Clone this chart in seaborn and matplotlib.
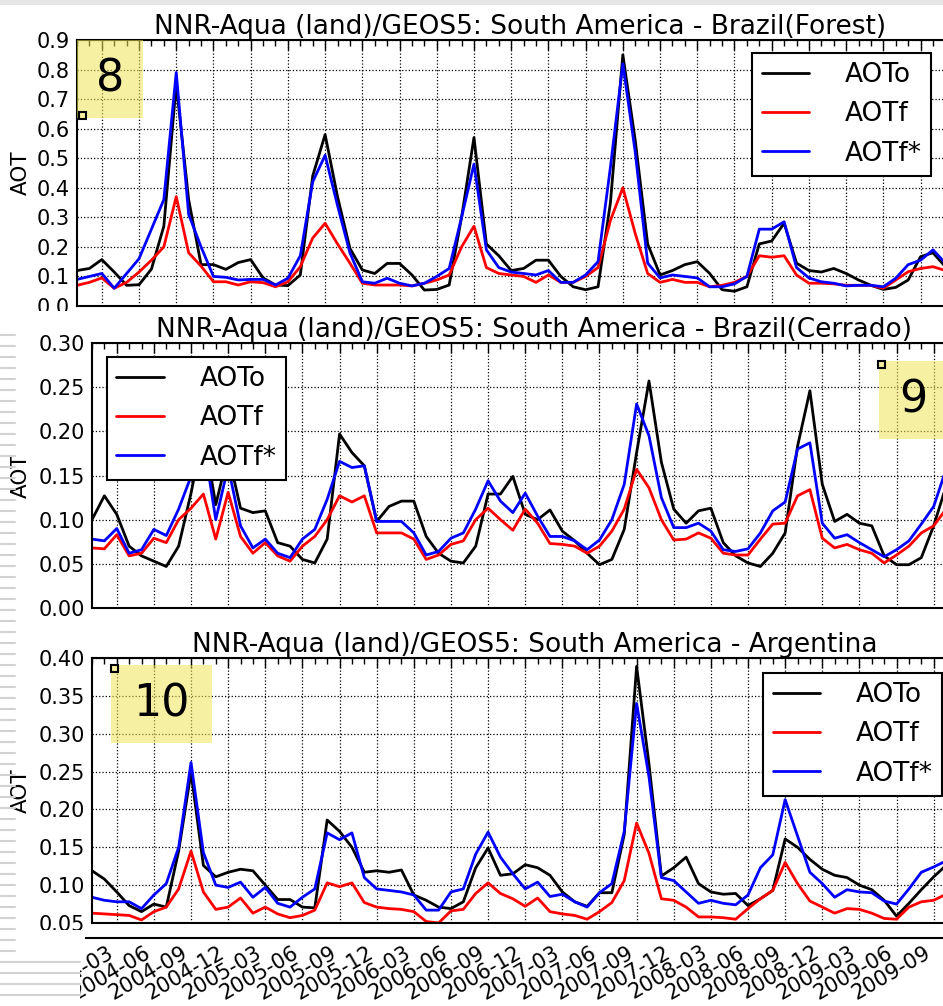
import pandas as pd
import seaborn as sns
import matplotlib.pyplot as plt
from matplotlib.lines import Line2D
from matplotlib.patches import Rectangle
from matplotlib.ticker import MultipleLocator, FixedLocator, FormatStrFormatter

sns.set_style("white")
plt.rcParams["font.family"] = ["DejaVu Sans"]
plt.rcParams.update({"text.color": "black", "axes.labelcolor": "black",
                     "xtick.color": "black", "ytick.color": "black"})

# data, monthly from 2004-01
series = ["AOTo", "AOTf", "AOTf*"]
colors = {"AOTo": "black", "AOTf": "red", "AOTf*": "blue"}
tick_labels = ["2004-03", "2004-06", "2004-09", "2004-12", "2005-03", "2005-06",
               "2005-09", "2005-12", "2006-03", "2006-06", "2006-09", "2006-12",
               "2007-03", "2007-06", "2007-09", "2007-12", "2008-03", "2008-06",
               "2008-09", "2008-12", "2009-03", "2009-06", "2009-09"]

titles = ["NNR-Aqua (land)/GEOS5: South America - Brazil(Forest)",
          "NNR-Aqua (land)/GEOS5: South America - Brazil(Cerrado)",
          "NNR-Aqua (land)/GEOS5: South America - Argentina"]

forest_aoto = [0.12, 0.127, 0.157, 0.115, 0.07, 0.072, 0.125, 0.27, 0.75, 0.36,
               0.14, 0.14, 0.124, 0.147, 0.157, 0.095, 0.071, 0.069, 0.105, 0.44,
               0.58, 0.37, 0.195, 0.122, 0.11, 0.144, 0.144, 0.105, 0.054, 0.056,
               0.071, 0.30, 0.57, 0.21, 0.17, 0.12, 0.127, 0.155, 0.155, 0.10,
               0.065, 0.055, 0.065, 0.35, 0.85, 0.56, 0.21, 0.105, 0.12, 0.14,
               0.15, 0.11, 0.055, 0.05, 0.065, 0.21, 0.22, 0.28, 0.145, 0.12,
               0.115, 0.127, 0.11, 0.088, 0.07, 0.056, 0.063, 0.088, 0.167, 0.18,
               0.133]
forest_aotf = [0.07, 0.08, 0.095, 0.06, 0.08, 0.115, 0.155, 0.20, 0.37, 0.18,
               0.135, 0.082, 0.082, 0.071, 0.082, 0.079, 0.065, 0.082, 0.133, 0.23,
               0.28, 0.21, 0.145, 0.077, 0.071, 0.071, 0.071, 0.068, 0.077, 0.088,
               0.105, 0.20, 0.27, 0.13, 0.11, 0.105, 0.10, 0.08, 0.105, 0.08,
               0.08, 0.10, 0.13, 0.29, 0.40, 0.245, 0.11, 0.08, 0.09, 0.08,
               0.08, 0.065, 0.07, 0.08, 0.10, 0.17, 0.165, 0.17, 0.105, 0.077,
               0.077, 0.075, 0.07, 0.07, 0.07, 0.06, 0.088, 0.116, 0.127, 0.133,
               0.12]
forest_aotf_star = [0.09, 0.10, 0.11, 0.06, 0.11, 0.16, 0.26, 0.36, 0.79, 0.31,
                    0.20, 0.10, 0.097, 0.088, 0.09, 0.09, 0.071, 0.094, 0.17, 0.42,
                    0.51, 0.34, 0.18, 0.082, 0.077, 0.094, 0.077, 0.068, 0.077, 0.10,
                    0.127, 0.30, 0.48, 0.19, 0.13, 0.115, 0.11, 0.105, 0.12, 0.08,
                    0.08, 0.105, 0.15, 0.47, 0.82, 0.52, 0.145, 0.095, 0.105, 0.10,
                    0.095, 0.065, 0.065, 0.075, 0.10, 0.26, 0.26, 0.285, 0.13, 0.095,
                    0.082, 0.077, 0.068, 0.07, 0.07, 0.065, 0.094, 0.14, 0.155, 0.19,
                    0.145]

cerrado_aoto = [0.10, 0.127, 0.106, 0.07, 0.059, 0.053, 0.047, 0.07, 0.13, 0.20,
                0.117, 0.175, 0.113, 0.108, 0.11, 0.074, 0.07, 0.055, 0.051, 0.078,
                0.197, 0.176, 0.161, 0.098, 0.115, 0.121, 0.121, 0.081, 0.062, 0.053,
                0.051, 0.07, 0.129, 0.129, 0.149, 0.106, 0.10, 0.111, 0.087, 0.076,
                0.062, 0.049, 0.055, 0.089, 0.176, 0.257, 0.165, 0.112, 0.096, 0.11,
                0.113, 0.074, 0.059, 0.051, 0.047, 0.062, 0.085, 0.183, 0.246, 0.14,
                0.098, 0.106, 0.096, 0.093, 0.059, 0.049, 0.049, 0.057, 0.093, 0.138,
                0.17]
cerrado_aotf = [0.068, 0.067, 0.083, 0.059, 0.062, 0.079, 0.074, 0.10, 0.113, 0.129,
                0.078, 0.131, 0.081, 0.062, 0.074, 0.059, 0.053, 0.07, 0.081, 0.10,
                0.127, 0.12, 0.127, 0.085, 0.085, 0.085, 0.078, 0.055, 0.06, 0.072,
                0.076, 0.10, 0.113, 0.10, 0.088, 0.112, 0.096, 0.073, 0.072, 0.07,
                0.062, 0.07, 0.087, 0.112, 0.157, 0.136, 0.10, 0.077, 0.078, 0.085,
                0.079, 0.062, 0.06, 0.06, 0.078, 0.095, 0.096, 0.127, 0.134, 0.079,
                0.068, 0.072, 0.066, 0.062, 0.051, 0.06, 0.07, 0.085, 0.093, 0.112,
                0.125]
cerrado_aotf_star = [0.078, 0.076, 0.09, 0.062, 0.066, 0.089, 0.082, 0.112, 0.149, 0.19,
                     0.10, 0.16, 0.093, 0.068, 0.078, 0.062, 0.057, 0.078, 0.089, 0.123,
                     0.166, 0.159, 0.161, 0.098, 0.098, 0.098, 0.085, 0.06, 0.064, 0.079,
                     0.085, 0.112, 0.144, 0.121, 0.108, 0.13, 0.104, 0.081, 0.081, 0.076,
                     0.066, 0.077, 0.10, 0.14, 0.231, 0.195, 0.125, 0.091, 0.091, 0.096,
                     0.087, 0.066, 0.064, 0.067, 0.085, 0.11, 0.12, 0.18, 0.187, 0.096,
                     0.079, 0.083, 0.074, 0.066, 0.058, 0.066, 0.076, 0.095, 0.115, 0.157,
                     0.18]

argentina_aoto = [0.119, 0.108, 0.091, 0.073, 0.065, 0.075, 0.071, 0.145, 0.249, 0.126,
                  0.111, 0.117, 0.121, 0.119, 0.10, 0.081, 0.081, 0.071, 0.07, 0.186,
                  0.171, 0.15, 0.117, 0.119, 0.117, 0.12, 0.087, 0.08, 0.071, 0.069,
                  0.078, 0.123, 0.149, 0.113, 0.115, 0.127, 0.123, 0.113, 0.091, 0.078,
                  0.072, 0.09, 0.09, 0.167, 0.389, 0.26, 0.112, 0.123, 0.137, 0.102,
                  0.091, 0.088, 0.089, 0.073, 0.082, 0.093, 0.161, 0.15, 0.134, 0.121,
                  0.113, 0.11, 0.10, 0.094, 0.08, 0.059, 0.076, 0.094, 0.111, 0.126,
                  0.14]
argentina_aotf = [0.063, 0.062, 0.061, 0.06, 0.054, 0.065, 0.071, 0.095, 0.145, 0.091,
                  0.068, 0.071, 0.083, 0.063, 0.071, 0.062, 0.057, 0.06, 0.067, 0.103,
                  0.098, 0.103, 0.077, 0.071, 0.069, 0.068, 0.065, 0.052, 0.05, 0.066,
                  0.068, 0.089, 0.103, 0.089, 0.082, 0.072, 0.083, 0.065, 0.062, 0.06,
                  0.055, 0.065, 0.077, 0.106, 0.182, 0.142, 0.082, 0.08, 0.071, 0.058,
                  0.058, 0.057, 0.055, 0.069, 0.082, 0.093, 0.13, 0.102, 0.079, 0.071,
                  0.063, 0.069, 0.068, 0.063, 0.056, 0.055, 0.071, 0.078, 0.08, 0.088,
                  0.095]
argentina_aotf_star = [0.084, 0.08, 0.078, 0.078, 0.069, 0.087, 0.102, 0.15, 0.262, 0.143,
                       0.10, 0.097, 0.104, 0.084, 0.097, 0.076, 0.071, 0.084, 0.095, 0.169,
                       0.16, 0.169, 0.11, 0.095, 0.093, 0.091, 0.087, 0.067, 0.067, 0.091,
                       0.095, 0.141, 0.17, 0.137, 0.115, 0.095, 0.104, 0.085, 0.088, 0.078,
                       0.071, 0.09, 0.102, 0.171, 0.34, 0.243, 0.11, 0.106, 0.091, 0.076,
                       0.08, 0.076, 0.074, 0.087, 0.123, 0.14, 0.213, 0.165, 0.117, 0.102,
                       0.084, 0.094, 0.091, 0.09, 0.079, 0.075, 0.095, 0.117, 0.124, 0.132,
                       0.14]


def month_index(label):
    y, m = label.split("-")
    return (int(y) - 2004) * 12 + int(m) - 1


def long_table(aoto, aotf, aotf_star):
    rows = []
    for name, vals in zip(series, [aoto, aotf, aotf_star]):
        for i, v in enumerate(vals):
            rows.append((i, v, name))
    return pd.DataFrame(rows, columns=["month", "AOT", "series"])


tick_pos = [month_index(t) for t in tick_labels]

W, H = 943, 1006
fig = plt.figure(figsize=(W / 100, H / 100), dpi=100)


def px_axes(left, top, right, bottom, z=0):
    ax = fig.add_axes([left / W, 1 - bottom / H, (right - left) / W, (bottom - top) / H])
    ax.set_zorder(z)
    return ax


panels = [
    # (left, top, right, bottom), data, ylim, ystep, fmt, legend loc, legend anchor px
    ((77, 40, 964, 306), (forest_aoto, forest_aotf, forest_aotf_star), (0, 0.9), 0.1, "%.1f",
     "upper right", (931, 53)),
    ((92, 343, 977, 608), (cerrado_aoto, cerrado_aotf, cerrado_aotf_star), (0, 0.30), 0.05, "%.2f",
     "upper left", (107, 357)),
    ((92, 658, 977, 923), (argentina_aoto, argentina_aotf, argentina_aotf_star), (0.05, 0.40), 0.05, "%.2f",
     "upper right", (942, 673)),
]

handles = [Line2D([], [], color=colors[s], lw=2) for s in series]

for k, (box, vals, ylim, ystep, fmt, loc, anchor) in enumerate(panels):
    ax = px_axes(*box, z=0 if k == 0 else 1)
    df = long_table(*vals)
    sns.lineplot(data=df, x="month", y="AOT", hue="series", hue_order=series,
                 palette=colors, linewidth=2, estimator=None, legend=False, ax=ax)
    ax.set_xlim(0, 71.5)
    ax.set_ylim(*ylim)
    ax.xaxis.set_major_locator(FixedLocator(tick_pos))
    ax.xaxis.set_minor_locator(MultipleLocator(1))
    ax.set_xticklabels([])
    ax.yaxis.set_major_locator(MultipleLocator(ystep))
    ax.yaxis.set_major_formatter(FormatStrFormatter(fmt))
    ax.tick_params(which="both", direction="in", top=True, right=True, color="black")
    ax.tick_params(which="major", length=7, width=1, labelsize=15, pad=5)
    ax.tick_params(which="minor", length=4, width=1)
    ax.grid(True, which="major", linestyle=":", color="black", linewidth=0.9)
    for sp in ax.spines.values():
        sp.set_color("black")
        sp.set_linewidth(1.5)
    ax.set_xlabel("")
    ax.set_ylabel("")
    ax.set_title(titles[k], fontsize=19, pad=4)
    yc = 1 - (box[1] + box[3]) / 2 / H
    fig.text(21 / W, yc, "AOT", rotation=90, ha="center", va="center", fontsize=15.5)
    leg = ax.legend(handles, series, loc=loc, bbox_to_anchor=(anchor[0] / W, 1 - anchor[1] / H),
                    bbox_transform=fig.transFigure, borderaxespad=0, fontsize=19,
                    frameon=True, fancybox=False, edgecolor="black", framealpha=1,
                    handlelength=1.8, handletextpad=1.35, labelspacing=0.5, borderpad=0.35)
    leg.get_frame().set_linewidth(1.5)

# axis carrying the date labels at the bottom
ax4 = px_axes(86, 923, 977, 938, z=1)
ax4.set_xlim(-0.485, 71.5)
ax4.set_facecolor("none")
ax4.set_yticks([])
for name in ["top", "left", "right"]:
    ax4.spines[name].set_visible(False)
ax4.spines["bottom"].set_linewidth(1.5)
ax4.spines["bottom"].set_color("black")
ax4.xaxis.set_major_locator(FixedLocator(tick_pos))
ax4.xaxis.set_minor_locator(MultipleLocator(1))
ax4.set_xticklabels(tick_labels, rotation=30, ha="right", fontsize=15)
ax4.tick_params(which="both", direction="in", length=4, color="black", pad=3)

# slide decorations
fig.add_artist(Rectangle((0, 1 - 337 / H), 1, 26 / H, transform=fig.transFigure,
                         facecolor="white", edgecolor="none", zorder=0.5))
fig.add_artist(Rectangle((0, 0), 80 / W, 76 / H, transform=fig.transFigure,
                         facecolor="white", edgecolor="none", zorder=3))
fig.add_artist(Rectangle((0, 1 - 5 / H), 1, 5 / H, transform=fig.transFigure,
                         facecolor="#e6e6e6", edgecolor="none", zorder=3))
for y in range(335, 1006, 11):
    x1 = 80 if y > 955 else 15
    fig.add_artist(Line2D([0, x1 / W], [1 - y / H, 1 - y / H], transform=fig.transFigure,
                          color="#d2d2d2", linewidth=1.5, zorder=4))

notes = [("8", (77, 40, 143, 118), (79, 112)),
         ("9", (879, 361, 950, 439), (878, 361)),
         ("10", (111, 665, 212, 743), (111, 665))]
for txt, (l, t, r, b), (sx, sy) in notes:
    fig.add_artist(Rectangle((l / W, 1 - b / H), (r - l) / W, (b - t) / H, transform=fig.transFigure,
                             facecolor="#efe457", alpha=0.55, edgecolor="none", zorder=5))
    fig.text((l + r) / 2 / W if txt != "9" else 913 / W, 1 - (t + b) / 2 / H, txt,
             ha="center", va="center", fontsize=32, zorder=6)
    fig.add_artist(Rectangle((sx / W, 1 - (sy + 7) / H), 7 / W, 7 / H, transform=fig.transFigure,
                             facecolor="#f7f0a0", edgecolor="black", linewidth=1.5, zorder=6))

fig.savefig("out.png", dpi=100)
